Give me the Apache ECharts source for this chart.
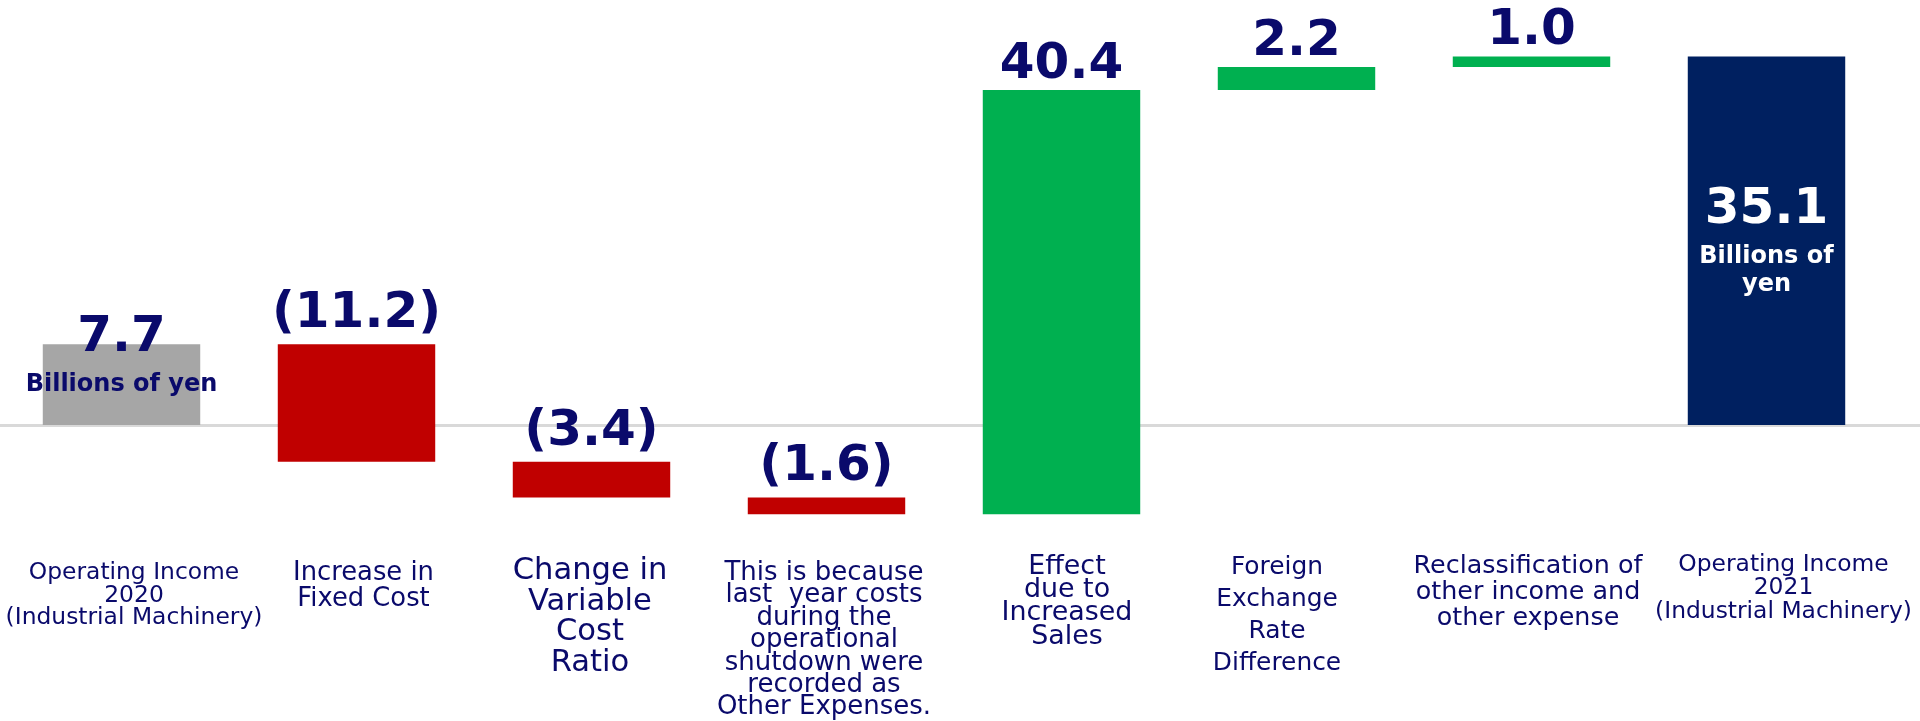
<!DOCTYPE html>
<html>
<head>
<meta charset="utf-8">
<style>
  html, body { margin: 0; padding: 0; background: #fff; }
  #chart { width: 1920px; height: 721px; }
</style>
<script src="https://cdn.jsdelivr.net/npm/echarts@6/dist/echarts.min.js"></script>
</head>
<body>
<div id="chart"></div>
<script>
// categories (line breaks as in the slide)
const categories = [
  'Operating Income\n2020\n(Industrial Machinery)',
  'Increase in\nFixed Cost',
  'Change in\nVariable\nCost\nRatio',
  'This is because\nlast  year costs\nduring the\noperational\nshutdown were\nrecorded as\nOther Expenses.',
  'Effect\ndue to\nIncreased\nSales',
  'Foreign\nExchange\nRate\nDifference',
  'Reclassification of\nother income and\nother expense',
  'Operating Income\n2021\n(Industrial Machinery)'
];
// billions of yen; first and last are totals, the rest are changes
const changes = [7.7, -11.2, -3.4, -1.6, 40.4, 2.2, 1.0, 35.1];
const kinds = ['total', 'down', 'down', 'down', 'up', 'up', 'up', 'total'];
const unitText = 'Billions of yen';

const NAVY_TEXT = '#0a0a6b';
const colors = { first: '#a6a6a6', down: '#c00000', up: '#00b050', last: '#002060' };
const FONT = "'DejaVu Sans', Verdana, sans-serif";

// waterfall: transparent base + visible piece
const base = [], piece = [];
let running = 0;
changes.forEach((v, i) => {
  if (kinds[i] === 'total') {
    base.push(0);
    piece.push(v);
    running = v;
  } else {
    const end = running + v;
    base.push(Math.min(running, end));
    piece.push(Math.abs(v));
    running = end;
  }
});

function valueText(i) {
  const v = changes[i];
  return kinds[i] === 'down' ? '(' + Math.abs(v).toFixed(1) + ')' : v.toFixed(1);
}

const pieceData = piece.map((v, i) => {
  const last = i === changes.length - 1;
  const color = i === 0 ? colors.first : last ? colors.last : colors[kinds[i]];
  const item = { value: v, itemStyle: { color: color } };
  if (i === 0) {
    item.label = {
      show: true, position: ['50%', -31], align: 'center', verticalAlign: 'top',
      formatter: '{v|' + valueText(i) + '}\n{u|' + unitText + '}',
      rich: {
        v: { fontSize: 50, fontWeight: 'bold', lineHeight: 50, color: NAVY_TEXT, fontFamily: FONT },
        u: { fontSize: 24, fontWeight: 'bold', lineHeight: 44, color: NAVY_TEXT, fontFamily: FONT }
      }
    };
  } else if (last) {
    item.label = {
      show: true, position: ['50%', 122], align: 'center', verticalAlign: 'top',
      formatter: '{v|' + valueText(i) + '}\n{u|Billions of}\n{u|yen}',
      rich: {
        v: { fontSize: 50, fontWeight: 'bold', lineHeight: 64, color: '#fff', fontFamily: FONT },
        u: { fontSize: 24, fontWeight: 'bold', lineHeight: 28, color: '#fff', fontFamily: FONT }
      }
    };
  } else {
    item.label = {
      show: true, position: 'top', distance: kinds[i] === 'down' ? 5 : 0,
      formatter: valueText(i),
      fontSize: 50, fontWeight: 'bold', color: NAVY_TEXT, fontFamily: FONT
    };
  }
  return item;
});

// category label look (size / line spacing) and nudges, as on the slide
const catFont = [23.4, 25.8, 30.6, 26, 26.9, 24.9, 25.4, 23.4];
const catLine = [22.5, 26, 30.5, 22.4, 23.3, 32, 26, 23.5];
const catTop = [13, 11, 7, 13, 6, 3, 4, 4];
const catShift = [12.5, 7, -1.5, -2.5, 5.5, -19.5, -3.5, 17];

const catRich = {};
catFont.forEach((f, i) => {
  catRich['c' + i] = { fontFamily: FONT, fontSize: f, lineHeight: catLine[i], color: NAVY_TEXT };
});

const chart = echarts.init(document.getElementById('chart'));
chart.setOption({
  animation: false,
  backgroundColor: '#fff',
  grid: [
    { left: 4, right: 36, top: 5, bottom: 170, outerBoundsMode: 'none' },
    { left: 0, right: 0, top: 5, bottom: 170, outerBoundsMode: 'none' }
  ],
  xAxis: [
    {
      type: 'category', gridIndex: 0,
      data: categories.map((c, i) => ({
        value: c,
        textStyle: {
          padding: [catTop[i], catShift[i] < 0 ? -2 * catShift[i] : 0, 0, catShift[i] > 0 ? 2 * catShift[i] : 0]
        }
      })),
      axisLine: { show: false, onZero: false }, axisTick: { show: false },
      axisLabel: {
        interval: 0, margin: -2,
        formatter: (value, index) => value.split('\n').map(l => '{c' + index + '|' + l + '}').join('\n'),
        rich: catRich
      }
    },
    {
      type: 'category', gridIndex: 1, data: [''],
      axisLine: { show: true, onZero: true, lineStyle: { color: '#d9d9d9', width: 3 } },
      axisTick: { show: false }, axisLabel: { show: false }
    }
  ],
  yAxis: [
    { type: 'value', gridIndex: 0, min: -12, max: 40, show: false },
    { type: 'value', gridIndex: 1, min: -12, max: 40, show: false }
  ],
  series: [
    {
      type: 'bar', stack: 'wf', stackStrategy: 'all', barWidth: '67%', silent: true,
      itemStyle: { color: 'transparent' }, data: base
    },
    {
      type: 'bar', stack: 'wf', stackStrategy: 'all', barWidth: '67%',
      data: pieceData
    }
  ]
});
</script>
</body>
</html>
